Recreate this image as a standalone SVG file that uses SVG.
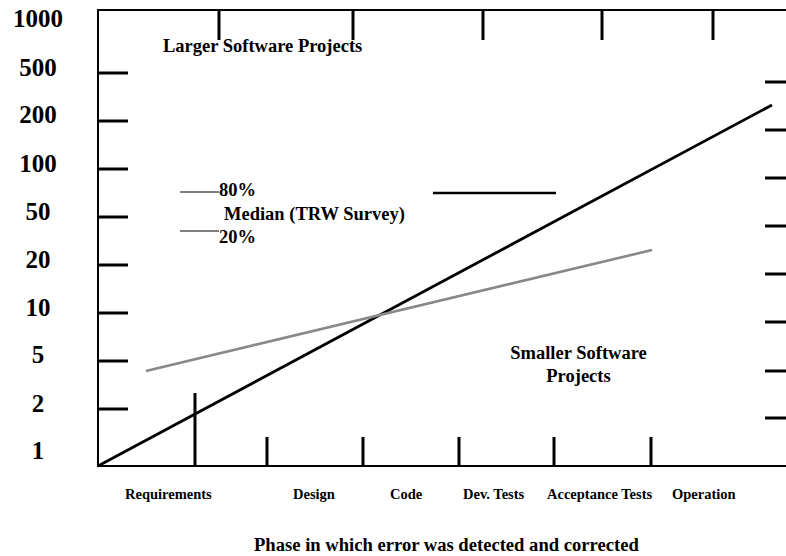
<svg xmlns="http://www.w3.org/2000/svg" width="786" height="556" viewBox="0 0 786 556">
  <style>
    text { font-family: "Liberation Serif", "Times New Roman", serif; font-weight: bold; fill: #000; }
    .ylab { font-size: 25px; text-anchor: middle; }
    .note { font-size: 18.5px; }
    .phase { font-size: 14.5px; }
    .title { font-size: 18.6px; }
    .axis { stroke: #000; stroke-width: 2; fill: none; }
    .tick { stroke: #000; stroke-width: 3; fill: none; }
    .thin { stroke: #000; stroke-width: 1.2; fill: none; }
  </style>
  <rect width="786" height="556" fill="#fff"/>

  <!-- frame: left axis, top border, bottom axis -->
  <g id="axes">
    <line class="axis" x1="98" y1="10" x2="98" y2="466"/>
    <line class="axis" x1="97" y1="10" x2="786" y2="10"/>
    <line class="axis" x1="97" y1="466" x2="786" y2="466"/>
  </g>

  <!-- tick marks -->
  <g id="ticks">
    <!-- left scale -->
    <line class="tick" x1="98" y1="73" x2="128" y2="73"/>
    <line class="tick" x1="98" y1="121" x2="128" y2="121"/>
    <line class="tick" x1="98" y1="169" x2="128" y2="169"/>
    <line class="tick" x1="98" y1="217" x2="128" y2="217"/>
    <line class="tick" x1="98" y1="265" x2="128" y2="265"/>
    <line class="tick" x1="98" y1="313" x2="128" y2="313"/>
    <line class="tick" x1="98" y1="361" x2="128" y2="361"/>
    <line class="tick" x1="98" y1="409" x2="128" y2="409"/>
    <!-- right scale -->
    <line class="tick" x1="765" y1="82" x2="786" y2="82"/>
    <line class="tick" x1="765" y1="130" x2="786" y2="130"/>
    <line class="tick" x1="765" y1="178" x2="786" y2="178"/>
    <line class="tick" x1="765" y1="226" x2="786" y2="226"/>
    <line class="tick" x1="765" y1="274" x2="786" y2="274"/>
    <line class="tick" x1="765" y1="322" x2="786" y2="322"/>
    <line class="tick" x1="765" y1="371" x2="786" y2="371"/>
    <line class="tick" x1="765" y1="418" x2="786" y2="418"/>
    <!-- top -->
    <line class="tick" x1="219" y1="10" x2="219" y2="40"/>
    <line class="tick" x1="353" y1="10" x2="353" y2="40"/>
    <line class="tick" x1="483" y1="10" x2="483" y2="40"/>
    <line class="tick" x1="602" y1="10" x2="602" y2="40"/>
    <line class="tick" x1="713" y1="10" x2="713" y2="40"/>
    <!-- bottom phases -->
    <line class="tick" x1="195" y1="393" x2="195" y2="466"/>
    <line class="tick" x1="267" y1="437" x2="267" y2="466"/>
    <line class="tick" x1="363" y1="437" x2="363" y2="466"/>
    <line class="tick" x1="459" y1="437" x2="459" y2="466"/>
    <line class="tick" x1="554" y1="437" x2="554" y2="466"/>
    <line class="tick" x1="651" y1="437" x2="651" y2="466"/>
  </g>

  <!-- cost trend lines -->
  <g id="connectors">
    <line x1="98" y1="466" x2="772" y2="105" stroke="#000" stroke-width="2.8"/>
    <line x1="146" y1="371" x2="652" y2="250" stroke="#888" stroke-width="2.6"/>
    <line class="thin" x1="180" y1="192" x2="219" y2="192"/>
    <line class="thin" x1="180" y1="231" x2="219" y2="231"/>
    <line x1="433" y1="193" x2="556" y2="193" stroke="#000" stroke-width="2.5"/>
  </g>

  <!-- relative cost scale -->
  <g id="y-labels">
    <text class="ylab" x="38" y="27">1000</text>
    <text class="ylab" x="38" y="76">500</text>
    <text class="ylab" x="38" y="123">200</text>
    <text class="ylab" x="38" y="172">100</text>
    <text class="ylab" x="38" y="220">50</text>
    <text class="ylab" x="38" y="268">20</text>
    <text class="ylab" x="38" y="316">10</text>
    <text class="ylab" x="38" y="363">5</text>
    <text class="ylab" x="38" y="412">2</text>
    <text class="ylab" x="38" y="459">1</text>
  </g>

  <g id="larger-projects">
    <text class="note" x="163" y="52">Larger Software Projects</text>
  </g>

  <g id="trw-survey">
    <text class="note" x="219" y="196">80%</text>
    <text class="note" x="224" y="220">Median (TRW Survey)</text>
    <text class="note" x="219" y="243">20%</text>
  </g>

  <g id="smaller-projects">
    <text class="note" x="578.5" y="359" text-anchor="middle">Smaller Software</text>
    <text class="note" x="578.5" y="382" text-anchor="middle">Projects</text>
  </g>

  <g id="phases">
    <text class="phase" x="125" y="499">Requirements</text>
    <text class="phase" x="293" y="499">Design</text>
    <text class="phase" x="390" y="499">Code</text>
    <text class="phase" x="463" y="499">Dev. Tests</text>
    <text class="phase" x="547" y="499">Acceptance Tests</text>
    <text class="phase" x="672" y="499">Operation</text>
  </g>

  <g id="x-title">
    <text class="title" x="254" y="551">Phase in which error was detected and corrected</text>
  </g>
</svg>
